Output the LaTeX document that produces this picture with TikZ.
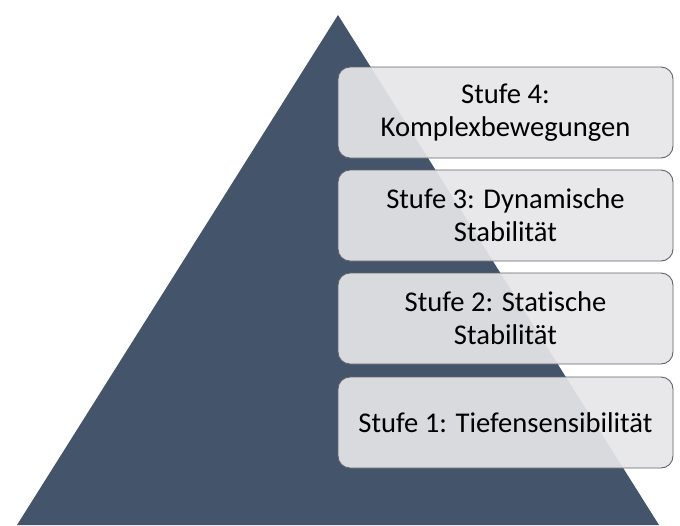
\documentclass[tikz,border=0pt]{standalone}
\usepackage{fontspec}
\setmainfont{Carlito}[Ligatures=NoCommon]
\definecolor{pyramid}{HTML}{44546A}
\definecolor{stepfill}{HTML}{E6E6E8}
\definecolor{stepline}{HTML}{62646C}
\tikzset{
  stepbox/.style={draw=stepline, line width=0.9pt, fill=stepfill, fill opacity=0.92,
    text opacity=1, rounded corners=12pt, minimum width=335pt, minimum height=91pt,
    inner sep=0pt, align=center, font=\fontsize{28.6}{33}\selectfont}
}
\begin{document}
\begin{tikzpicture}[x=1pt, y=-1pt]
    \useasboundingbox (0,0) rectangle (680,525);

    % the pyramid
    \coordinate (top) at (338,15);
    \coordinate (left) at (17,525);
    \coordinate (right) at (659,525);
    \fill[pyramid] (top) -- (left) -- (right) -- cycle;

    % the four steps, stacked from the bottom up
    \node[stepbox] (s1) at (505.5,422.5) {Stufe 1: Tiefensensibilität};
    \node[stepbox] (s2) at (505.5,318.5) {Stufe 2: Statische\\Stabilität};
    \node[stepbox] (s3) at (505.5,215.5) {Stufe 3: Dynamische\\Stabilität};
    \node[stepbox] (s4) at (505.5,112.5) {Stufe 4:\\Komplexbewegungen};

\end{tikzpicture}
\end{document}
